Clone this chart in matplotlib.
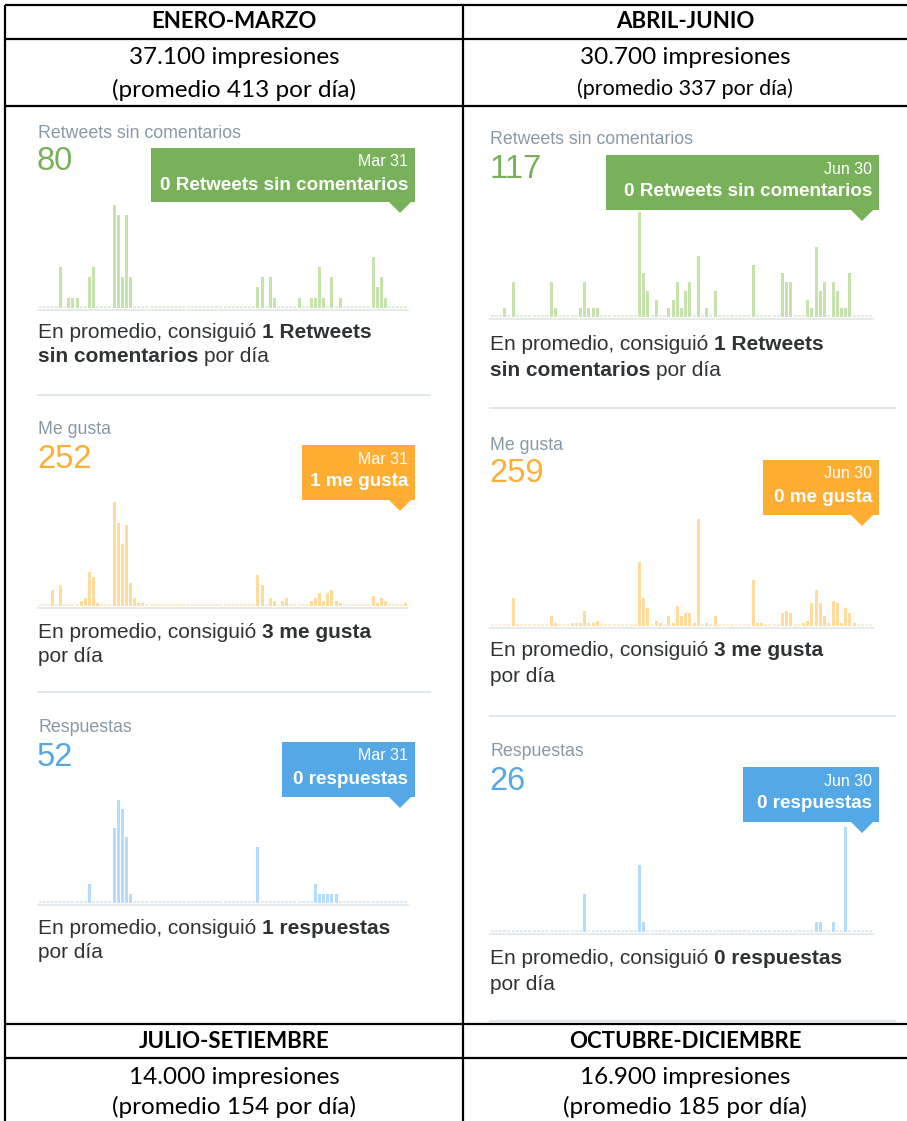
import numpy as np
import matplotlib
matplotlib.use('Agg')
import matplotlib.pyplot as plt
from matplotlib.patches import Polygon, Rectangle

W, H = 907, 1121

# table contents
quarters = ["ENERO-MARZO", "ABRIL-JUNIO", "JULIO-SETIEMBRE", "OCTUBRE-DICIEMBRE"]
impressions = ["37.100", "30.700", "14.000", "16.900"]
daily_avg = [413, 337, 154, 185]

# daily counts, only the days with activity (day index inside the quarter)
q1_ndays = 90
q2_ndays = 91

rt_q1_days = [5, 7, 8, 9, 12, 13, 18, 19, 20, 21, 22, 53, 54, 56, 57, 63, 66, 67, 68, 69, 71, 73, 81, 82, 83, 84]
rt_q1_vals = [4, 1, 1, 1, 3, 4, 10, 9, 3, 9, 3, 2, 3, 3, 1, 1, 1, 1, 4, 1, 3, 1, 5, 2, 3, 1]

likes_q1_days = [3, 5, 10, 11, 12, 13, 14, 18, 19, 20, 21, 22, 23, 24, 25, 53, 54, 56, 57, 59, 60,
                 66, 67, 68, 69, 70, 71, 72, 73, 81, 82, 83, 84, 89]
likes_q1_vals = [6, 8, 2, 3, 13, 11, 1, 40, 32, 24, 31, 9, 3, 1, 1, 12, 8, 3, 2, 2, 3,
                 2, 3, 5, 2, 5, 6, 2, 1, 4, 1, 3, 2, 1]

resp_q1_days = [12, 18, 19, 20, 21, 22, 53, 67, 68, 69, 70, 71, 72]
resp_q1_vals = [2, 8, 11, 10, 7, 1, 6, 2, 1, 1, 1, 1, 1]

rt_q2_days = [3, 5, 14, 15, 21, 22, 23, 24, 25, 35, 36, 37, 39, 42, 43, 44, 45, 46, 47, 49, 51, 53,
              62, 69, 70, 71, 75, 76, 77, 78, 79, 81, 82, 83, 84, 85]
rt_q2_vals = [1, 4, 4, 1, 1, 4, 1, 1, 1, 12, 5, 3, 2, 1, 2, 4, 1, 3, 4, 7, 1, 3,
              6, 5, 4, 4, 2, 1, 8, 3, 4, 4, 3, 1, 1, 5]

likes_q2_days = [5, 14, 15, 19, 20, 21, 22, 23, 24, 25, 35, 36, 37, 39, 40, 42, 43, 44, 45, 46, 47, 48,
                 49, 51, 53, 62, 63, 64, 69, 70, 71, 74, 75, 76, 77, 78, 79, 80, 81, 82, 83, 84, 85, 86]
likes_q2_vals = [11, 4, 1, 1, 1, 1, 6, 1, 1, 2, 25, 11, 7, 2, 1, 4, 1, 8, 4, 5, 5, 1,
                 42, 1, 4, 18, 1, 1, 5, 6, 5, 1, 2, 9, 14, 9, 4, 1, 10, 9, 1, 7, 5, 1]

resp_q2_days = [22, 35, 36, 77, 78, 81, 84]
resp_q2_vals = [4, 7, 1, 1, 1, 1, 11]

metric_names = ["Retweets sin comentarios", "Me gusta", "Respuestas"]
totals_q1 = [80, 252, 52]
totals_q2 = [117, 259, 26]
avg_q1 = [1, 3, 1]
avg_q2 = [1, 3, 0]
last_q1 = [0, 1, 0]
last_q2 = [0, 0, 0]

TABLE_FONT = ['Lato', 'DejaVu Sans']
SHOT_FONT = ['Liberation Sans', 'DejaVu Sans']

strong = ['#78b159', '#ffad33', '#55a8e6']
light = ['#c6e3ae', '#ffdc9c', '#b6dcfb']
stub = ['#e2efd8', '#fcecd2', '#dcebf8']

fig = plt.figure(figsize=(W / 100, H / 100), dpi=100)
ax = fig.add_axes([0, 0, 1, 1])
ax.set_xlim(0, W)
ax.set_ylim(H, 0)
ax.axis('off')

# ---- table grid
for y in [5, 39, 106, 1024, 1058]:
    ax.plot([5, W], [y, y], color='black', lw=1.6, solid_capstyle='butt')
for x in [5, 463]:
    ax.plot([x, x], [5, H], color='black', lw=1.6, solid_capstyle='butt')

col_cx = [234, 685]
for i, y in [(0, 22), (1, 22), (2, 1041), (3, 1041)]:
    ax.text(col_cx[i % 2], y, quarters[i], ha='center', va='center', fontsize=16,
            fontweight='bold', family=TABLE_FONT)

rows = [(0, 58, 90, 17.5), (1, 58, 89, 15.5), (2, 1077, 1107, 17.5), (3, 1077, 1107, 17.5)]
for i, y1, y2, fs2 in rows:
    cx = col_cx[i % 2]
    ax.text(cx, y1, impressions[i] + " impresiones", ha='center', va='center', fontsize=17.5, family=TABLE_FONT)
    ax.text(cx, y2, "(promedio %d por día)" % daily_avg[i], ha='center', va='center', fontsize=fs2, family=TABLE_FONT)


def mixed(x, y, parts, fs=15):
    t = ax.text(x, y, parts[0][0], ha='left', va='center', fontsize=fs, family=SHOT_FONT,
                color='#2f3336', fontweight='bold' if parts[0][1] else 'normal')
    for s, b in parts[1:]:
        t = ax.annotate(s, xy=(1, 0), xycoords=t, xytext=(fs * 0.28, 0), textcoords='offset points',
                        ha='left', va='bottom', fontsize=fs, family=SHOT_FONT, color='#2f3336',
                        fontweight='bold' if b else 'normal')


def bars(x0, x1, top, base, days, vals, n, k):
    bax = fig.add_axes([x0 / W, 1 - base / H, (x1 - x0) / W, (base - top) / H])
    counts = np.zeros(n)
    counts[days] = vals
    pos = np.arange(n)
    bax.bar(pos, counts, width=0.72, color=light[k], linewidth=0)
    bax.bar(pos[counts == 0], max(vals) * 0.02, width=0.72, color=stub[k], linewidth=0)
    bax.set_xlim(-0.5, n - 0.5)
    bax.set_ylim(0, max(vals))
    bax.axis('off')
    ax.plot([x0, x1], [base + 1.5, base + 1.5], color='#e3e6e8', lw=1.2)


def tooltip(box, tip_x, k, date, msg):
    x0, y0, x1, y1 = box
    ax.add_patch(Rectangle((x0, y0), x1 - x0, y1 - y0, color=strong[k], lw=0))
    ax.add_patch(Polygon([(tip_x - 11, y1), (tip_x + 11, y1), (tip_x, y1 + 11)], closed=True,
                         color=strong[k], lw=0))
    ax.text(x1 - 7, y0 + 14, date, ha='right', va='center', fontsize=11.5, color='white', family=SHOT_FONT)
    ax.text(x1 - 7, y0 + 37, msg, ha='right', va='center', fontsize=13.6, color='white',
            fontweight='bold', family=SHOT_FONT)


msgs = ["Retweets sin comentarios", "me gusta", "respuestas"]


def panel(x0, bx1, sep_x1, secs, data, n, totals, avgs, lasts, date, tip_x):
    for k, s in enumerate(secs):
        ax.text(x0, s['label'], metric_names[k], ha='left', va='center', fontsize=12.8,
                color='#8899a6', family=SHOT_FONT)
        ax.text(x0 - 1, s['num'] + 2, str(totals[k]), ha='left', va='center', fontsize=23.5,
                color=strong[k], family=SHOT_FONT)
        tooltip(s['tip'], tip_x, k, date, "%d %s" % (lasts[k], msgs[k]))
        days, vals = data[k]
        bars(x0, bx1, s['top'], s['base'], days, vals, n, k)
        if k == 0:
            mixed(x0, s['text'][0], [("En promedio, consiguió", False), ("%d Retweets" % avgs[k], True)])
            mixed(x0, s['text'][1], [("sin comentarios", True), ("por día", False)])
        else:
            mixed(x0, s['text'][0], [("En promedio, consiguió", False), ("%d %s" % (avgs[k], msgs[k]), True)])
            mixed(x0, s['text'][1], [("por día", False)])
        if s['sep'] is not None:
            ax.plot([x0, sep_x1], [s['sep'], s['sep']], color='#e1e8ed', lw=1.5)


left_secs = [
    dict(label=133, num=160, tip=(151, 148, 415, 202), top=205, base=308, text=(332, 357), sep=395),
    dict(label=430, num=457, tip=(302, 445, 415, 500), top=502, base=606, text=(632, 657), sep=692),
    dict(label=728, num=755, tip=(282, 742, 415, 797), top=800, base=903, text=(928, 953), sep=None),
]
right_secs = [
    dict(label=139, num=167, tip=(606, 155, 879, 210), top=212, base=317, text=(344, 370), sep=408),
    dict(label=445, num=472, tip=(763, 460, 879, 515), top=519, base=626, text=(651, 677), sep=716),
    dict(label=751, num=779, tip=(743, 767, 879, 822), top=827, base=932, text=(958, 984), sep=1021),
]

panel(38, 408, 430, left_secs,
      [(rt_q1_days, rt_q1_vals), (likes_q1_days, likes_q1_vals), (resp_q1_days, resp_q1_vals)],
      q1_ndays, totals_q1, avg_q1, last_q1, "Mar 31", 400)
panel(490, 873, 895, right_secs,
      [(rt_q2_days, rt_q2_vals), (likes_q2_days, likes_q2_vals), (resp_q2_days, resp_q2_vals)],
      q2_ndays, totals_q2, avg_q2, last_q2, "Jun 30", 862)

fig.savefig('out.png', dpi=100)
